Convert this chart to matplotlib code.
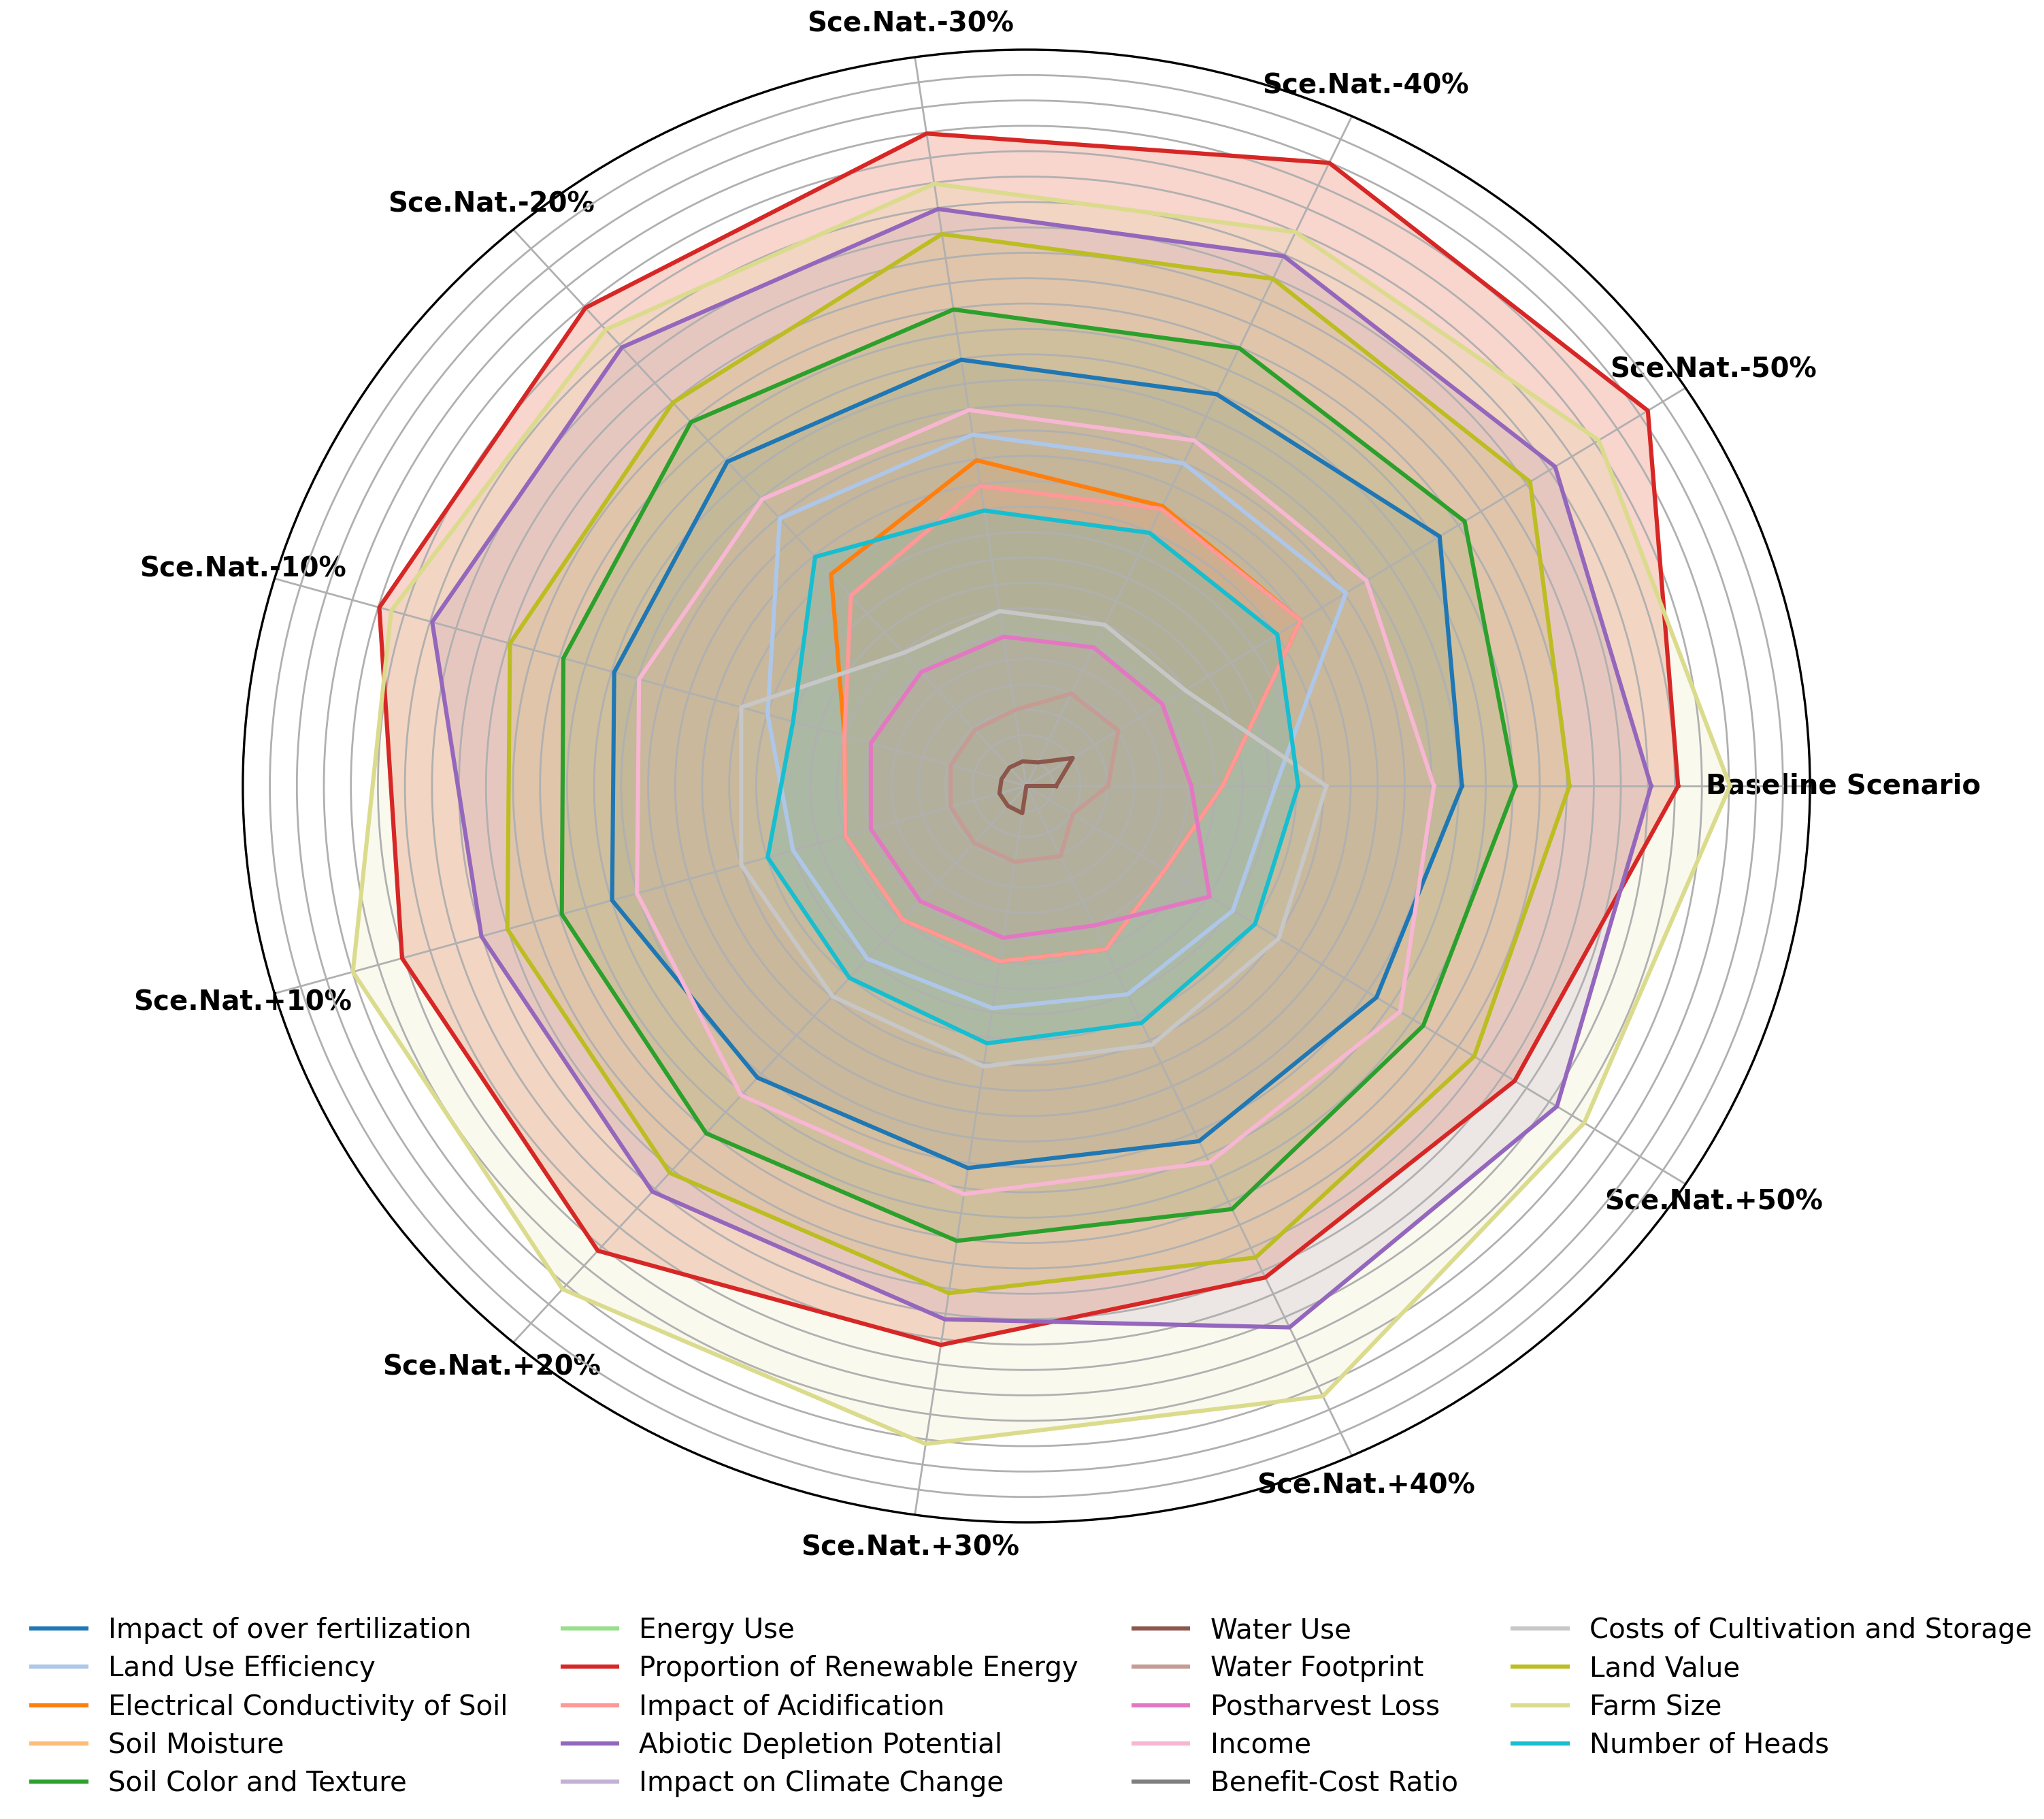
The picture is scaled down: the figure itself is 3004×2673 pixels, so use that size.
import numpy as np
import matplotlib
matplotlib.use("Agg")
import matplotlib.pyplot as plt

categories = ['Baseline Scenario', 'Sce.Nat.-50%', 'Sce.Nat.-40%', 'Sce.Nat.-30%',
              'Sce.Nat.-20%', 'Sce.Nat.-10%', 'Sce.Nat.+10%', 'Sce.Nat.+20%',
              'Sce.Nat.+30%', 'Sce.Nat.+40%', 'Sce.Nat.+50%']

impact_over_fertilization = [80.6, 90.9, 84.8, 84.8, 84.5, 79.5, 79.9, 76.0, 76.0, 76.9, 77.0]
land_use_efficiency = [46.1, 70.3, 69.9, 69.9, 69.7, 49.9, 45.0, 45.0, 44.2, 45.1, 45.4]
electrical_conductivity = [36.3, 60.3, 60.6, 64.8, 55.2, 35.1, 34.9, 34.9, 34.9, 35.4, 30.5]
soil_moisture = [120.6, 136.7, 134.9, 129.8, 124.6, 124.8, 120.4, 121.1, 111.2, 106.4, 107.4]
soil_color_texture = [90.5, 96.4, 94.8, 94.8, 94.8, 89.3, 89.6, 90.5, 90.5, 91.6, 87.3]
energy_use = [0, 0, 0, 0, 0, 0, 0, 0, 0, 0, 0]
renewable_energy = [120.6, 136.7, 134.9, 129.8, 124.6, 124.8, 120.4, 121.1, 111.2, 106.4, 107.4]
acidification = [36.3, 60.3, 60.0, 59.7, 49.6, 35.1, 34.9, 34.9, 34.9, 35.4, 30.5]
abiotic_depletion = [115.6, 116.3, 114.7, 114.8, 114.3, 114.6, 105.1, 105.7, 106.1, 117.2, 116.7]
climate_change = [0, 0, 0, 0, 0, 0, 0, 0, 0, 0, 0]
water_use = [5.5, 10.2, 5.1, 4.9, 4.8, 4.8, 5.2, 5.2, 5.4, 0, 0]
water_footprint = [15.1, 20.2, 20.0, 15.1, 14.6, 14.6, 14.6, 14.8, 15.1, 15.2, 10.2]
postharvest_loss = [30.5, 29.9, 30.0, 29.7, 29.7, 30.0, 30.0, 30.0, 30.2, 30.2, 40.3]
income = [75.4, 74.8, 74.8, 74.8, 74.7, 74.7, 75.1, 80.6, 81.2, 81.5, 82.2]
benefit_cost_ratio = [0, 0, 0, 0, 0, 0, 0, 0, 0, 0, 0]
costs_cultivation_storage = [55.5, 34.9, 34.9, 34.8, 34.7, 55.0, 55.0, 54.8, 55.8, 56.0, 55.5]
land_value = [100.5, 110.8, 109.8, 109.8, 99.9, 99.6, 100.1, 100.8, 100.9, 102.1, 98.5]
farm_size = [130.2, 125.9, 119.9, 119.8, 118.9, 122.5, 129.9, 131.1, 130.9, 132.1, 122.7]
number_of_heads = [50.3, 55.2, 54.8, 54.8, 59.7, 45.0, 49.9, 50.0, 51.2, 51.3, 50.3]

series_names = ['Impact of over fertilization', 'Land Use Efficiency',
                'Electrical Conductivity of Soil', 'Soil Moisture',
                'Soil Color and Texture', 'Energy Use',
                'Proportion of Renewable Energy', 'Impact of Acidification',
                'Abiotic Depletion Potential', 'Impact on Climate Change',
                'Water Use', 'Water Footprint', 'Postharvest Loss', 'Income',
                'Benefit-Cost Ratio', 'Costs of Cultivation and Storage',
                'Land Value', 'Farm Size', 'Number of Heads']
series_values = [impact_over_fertilization, land_use_efficiency,
                 electrical_conductivity, soil_moisture, soil_color_texture,
                 energy_use, renewable_energy, acidification, abiotic_depletion,
                 climate_change, water_use, water_footprint, postharvest_loss,
                 income, benefit_cost_ratio, costs_cultivation_storage,
                 land_value, farm_size, number_of_heads]

colors = plt.get_cmap('tab20').colors

fig = plt.figure(figsize=(15.02, 13.365), dpi=200)
ax = fig.add_axes([0.1188, 0.1631, 0.7667, 0.8096], projection='polar')
ax.set_aspect('auto')

n = len(categories)
angles = np.linspace(0, 2 * np.pi, n, endpoint=False)
angles_c = np.concatenate([angles, angles[:1]])

for i, (name, vals) in enumerate(zip(series_names, series_values)):
    v = np.concatenate([vals, vals[:1]])
    ax.plot(angles_c, v, color=colors[i], linewidth=2.2, label=name)
    ax.fill(angles_c, v, color=colors[i], alpha=0.15)

ax.set_ylim(0, 145)
ax.set_yticks(np.arange(5, 150, 5))
ax.set_yticklabels([])
ax.set_xticks(angles)
ax.set_xticklabels(categories, fontsize=14.5, fontweight='bold')
ax.tick_params(axis='x', pad=7)
ax.grid(True, color='#b0b0b0', linewidth=1.0)
ax.spines['polar'].set_linewidth(1.2)

fig.legend(loc='center', bbox_to_anchor=(0.5047, 0.0615), ncol=4,
           frameon=False, fontsize=14.5, labelspacing=0.40,
           handlelength=2.0, columnspacing=2.0)

fig.savefig('out.png', dpi=200)
